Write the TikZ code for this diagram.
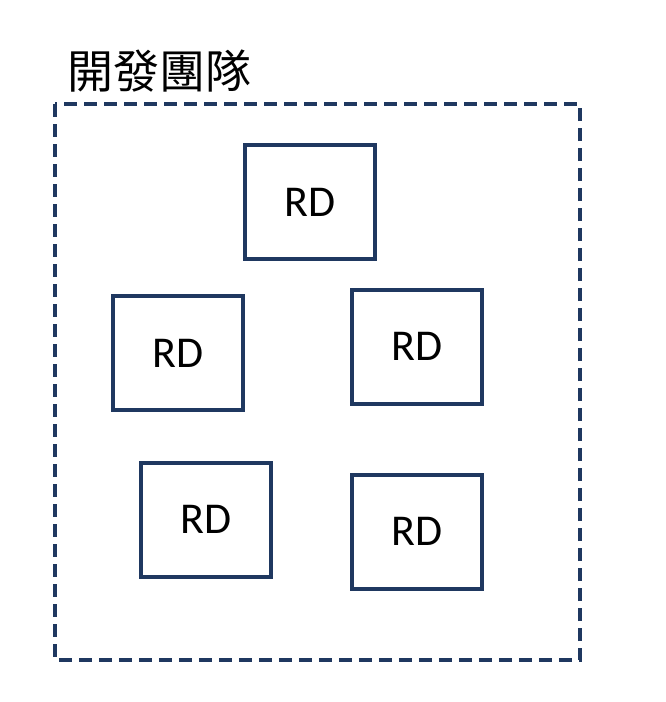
\documentclass[tikz,border=0pt]{standalone}
\usepackage{fontspec}
\setmainfont{Carlito}
\newfontfamily\cjk{Noto Sans CJK TC}
\definecolor{navy}{RGB}{31,56,96}
\begin{document}
\begin{tikzpicture}[x=1pt,y=-1pt,
  rdbox/.style={draw=navy,line width=4pt,minimum width=130pt,minimum height=114pt,inner sep=0pt,font=\fontsize{44}{46}\selectfont},
  teamframe/.style={draw=navy,line width=4pt,dash pattern=on 13pt off 7pt}]
\useasboundingbox (0,0) rectangle (666,702);
\draw[teamframe] (55,104) rectangle (580,660);
\node[font=\cjk\fontsize{46}{48}\selectfont,inner sep=0pt] (title) at (159,71) {開發團隊};
\node[rdbox] (rd1) at (310,202) {RD};
\node[rdbox] (rd2) at (178,353) {RD};
\node[rdbox] (rd3) at (417,346.5) {RD};
\node[rdbox] (rd4) at (206,519.5) {RD};
\node[rdbox] (rd5) at (417,531.5) {RD};
\end{tikzpicture}
\end{document}
